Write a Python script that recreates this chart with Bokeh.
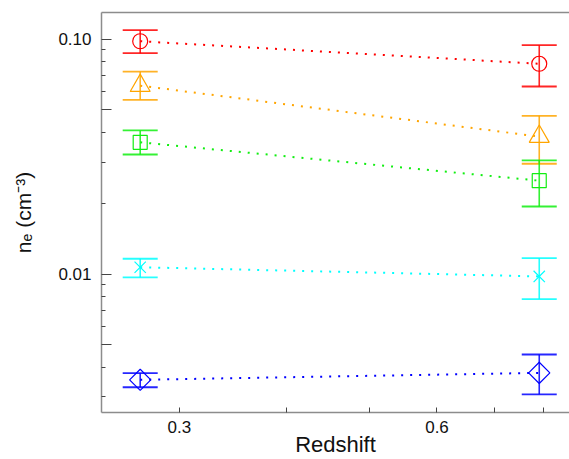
import math
from bokeh.plotting import figure
from bokeh.models import FixedTicker, PrintfTickFormatter, LogAxis, Range1d
from bokeh.embed import file_html
from bokeh.resources import INLINE

# ---- data ----
redshift = [0.27, 0.79]

red_ne = [0.0980, 0.0786]
red_lo = [0.0872, 0.0629]
red_hi = [0.1092, 0.0943]

orange_ne = [0.0634, 0.0385]
orange_lo = [0.0552, 0.0295]
orange_hi = [0.0727, 0.0472]

green_ne = [0.0364, 0.0250]
green_lo = [0.0323, 0.0194]
green_hi = [0.0409, 0.0305]

cyan_ne = [0.0107, 0.00978]
cyan_lo = [0.00968, 0.00783]
cyan_hi = [0.01163, 0.0117]

blue_ne = [0.00355, 0.00380]
blue_lo = [0.00330, 0.00308]
blue_hi = [0.00379, 0.00455]

x_major = [0.3, 0.6]
x_minor = [0.4, 0.5, 0.7, 0.8]
y_major = [0.005, 0.01, 0.05, 0.1]
y_minor = [0.003, 0.004, 0.006, 0.007, 0.008, 0.009,
           0.02, 0.03, 0.04, 0.06, 0.07, 0.08, 0.09]

series = [
    ("#ff0000", "circle", 0.0, 15, red_ne, red_lo, red_hi),
    ("#ffa500", "triangle", 0.0, 20, orange_ne, orange_lo, orange_hi),
    ("#11ee11", "square", 0.0, 14, green_ne, green_lo, green_hi),
    ("#00ffff", "x", 0.0, 16, cyan_ne, cyan_lo, cyan_hi),
    ("#0000ff", "square", math.pi / 4, 15, blue_ne, blue_lo, blue_hi),
]

p = figure(width=569, height=459, x_axis_type="log", y_axis_type="log",
           x_range=Range1d(0.2433, 0.857), y_range=Range1d(0.002577, 0.1299),
           output_backend="svg", toolbar_location=None,
           min_border_left=101, min_border_right=0, min_border_top=12,
           min_border_bottom=47)
p.outline_line_color = None
p.grid.visible = False
p.background_fill_color = "white"

FONT = "Liberation Sans"

for color, marker, ang, size, ne, lo, hi in series:
    p.segment(x0=redshift, y0=lo, x1=redshift, y1=hi, line_color=color,
              line_width=1.6, line_alpha=0.85)
    p.scatter(x=redshift + redshift, y=lo + hi, marker="dash", size=35,
              line_color=color, line_width=1.8, line_alpha=0.85)
    p.line(x=redshift, y=ne, line_color=color, line_width=2,
           line_dash="2 7")
    p.scatter(x=redshift, y=ne, marker=marker, size=size, angle=ang,
              fill_color=None, line_color=color, line_width=1.2)

xa = p.xaxis[0]
xa.ticker = FixedTicker(ticks=x_major, minor_ticks=x_minor)
xa.formatter = PrintfTickFormatter(format="%.1f")
xa.axis_label = "Redshift"

ya = p.yaxis[0]
ya.ticker = FixedTicker(ticks=y_major, minor_ticks=y_minor)
ya.formatter = PrintfTickFormatter(format="%.2f")
ya.major_label_overrides = {0.005: "", 0.05: ""}
ya.axis_label = "nₑ (cm⁻³)"

for ax in (xa, ya):
    ax.axis_line_color = "#8c8c8c"
    ax.axis_line_width = 1.5
    ax.major_tick_line_color = "#444444"
    ax.minor_tick_line_color = "#444444"
    ax.major_tick_out = 0
    ax.minor_tick_out = 0
    ax.major_label_text_font = FONT
    ax.major_label_text_font_size = "17px"
    ax.major_label_text_color = "#111111"
    ax.axis_label_text_font = FONT
    ax.axis_label_text_font_style = "normal"
    ax.axis_label_text_color = "#111111"

xa.axis_label_text_font_size = "22px"
ya.axis_label_text_font_size = "21px"
xa.major_tick_in = 5
xa.minor_tick_in = 5
xa.major_label_standoff = 8
xa.axis_label_standoff = -4
ya.major_tick_in = 10
ya.minor_tick_in = 4
ya.major_label_standoff = 10
ya.axis_label_standoff = 20

top = LogAxis(ticker=FixedTicker(ticks=[]), axis_line_color="#8c8c8c",
              axis_line_width=1.5, major_tick_in=0, major_tick_out=0,
              minor_tick_in=0, minor_tick_out=0)
p.add_layout(top, "above")

open("out.html", "w").write(file_html(p, INLINE))
